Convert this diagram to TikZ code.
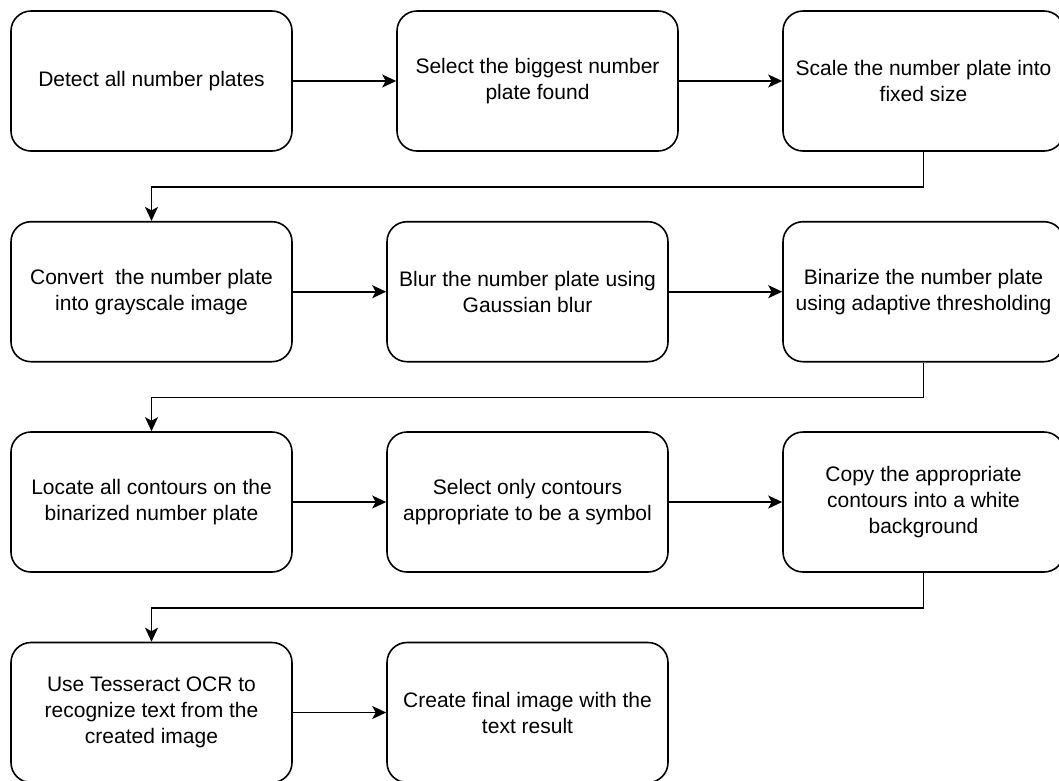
\documentclass[tikz,border=0pt]{standalone}
\usepackage{fontspec}
\setmainfont{Liberation Sans}
\usetikzlibrary{arrows.meta}
\begin{document}
\begin{tikzpicture}[x=1pt,y=-1pt,
  box/.style={draw=black, line width=1.6pt, fill=white, rounded corners=20pt,
    minimum width=281pt, minimum height=140pt, inner sep=0pt, align=center,
    font=\fontsize{21}{26}\selectfont},
  arr/.style={line width=1.6pt, -{Stealth[length=14pt,width=13pt,inset=3.5pt]}}]
\useasboundingbox[fill=white] (0,0) rectangle (1059,780);
% row 1
\node[box] (A) at (151.5,81) {Detect all number plates};
\node[box] (B) at (537.5,81) {Select the biggest number\\plate found};
\node[box] (C) at (923.5,81) {Scale the number plate into\\fixed size};
% row 2
\node[box] (D) at (151.5,291.7) {Convert~ the number plate\\into grayscale image};
\node[box] (E) at (527.5,291.7) {Blur the number plate using\\Gaussian blur};
\node[box] (F) at (923.5,291.7) {Binarize the number plate\\using adaptive thresholding};
% row 3
\node[box] (G) at (151.5,502) {Locate all contours on the\\binarized number plate};
\node[box] (H) at (527.5,502) {Select only contours\\appropriate to be a symbol};
\node[box] (I) at (923.5,502) {Copy the appropriate\\contours into a white\\background};
% row 4
\node[box] (J) at (151.5,712.5) {Use Tesseract OCR to\\recognize text from the\\created image};
\node[box] (K) at (527.5,712.5) {Create final image with the\\text result};
% connectors
\draw[arr] (A) -- (B);
\draw[arr] (B) -- (C);
\draw[arr] (C.south) -- ++(0,35) -| (D.north);
\draw[arr] (D) -- (E);
\draw[arr] (E) -- (F);
\draw[arr] (F.south) -- ++(0,35) -| (G.north);
\draw[arr] (G) -- (H);
\draw[arr] (H) -- (I);
\draw[arr] (I.south) -- ++(0,35) -| (J.north);
\draw[arr] (J) -- (K);
\end{tikzpicture}
\end{document}
